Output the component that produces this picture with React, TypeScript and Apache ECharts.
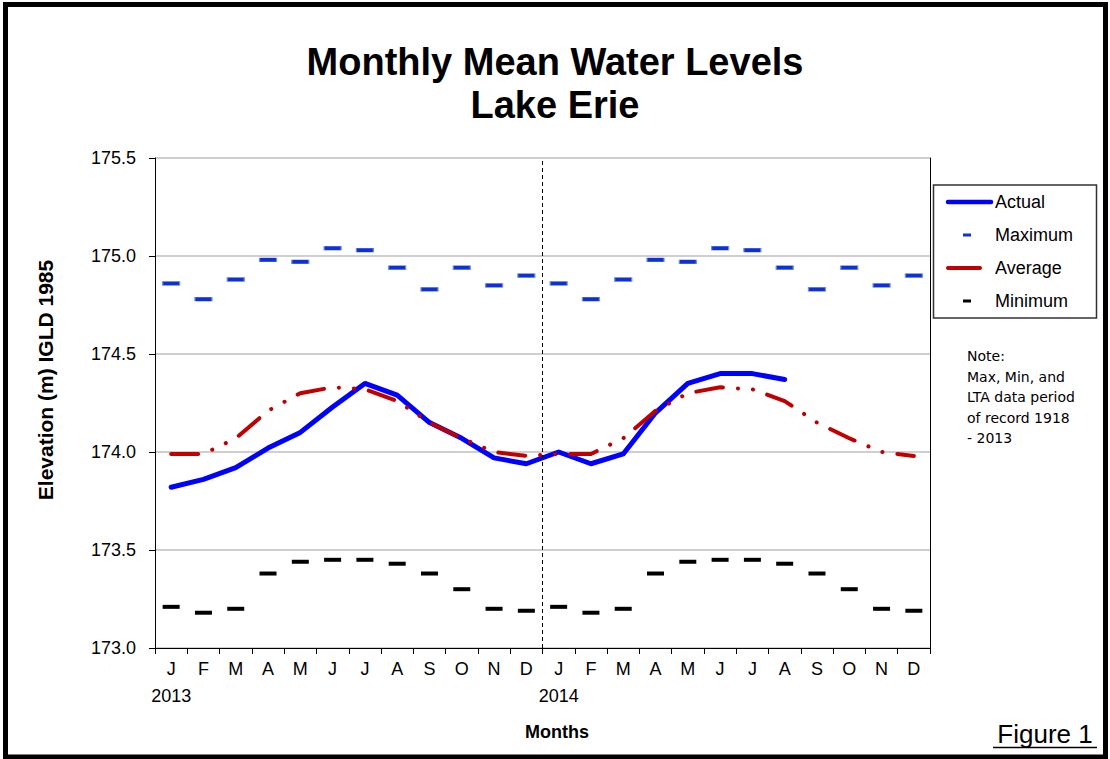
import React, { useEffect, useRef } from "react";
import * as echarts from "echarts";

const months = ["J", "F", "M", "A", "M", "J", "J", "A", "S", "O", "N", "D"];
const years = ["2013", "2014"];
const categories = years.flatMap((y) => months.map((m, i) => `${y}-${i + 1}`));

const actual = [
  173.82, 173.86, 173.92, 174.02, 174.1, 174.23, 174.35, 174.29, 174.15, 174.07, 173.97, 173.94,
  174.0, 173.94, 173.99, 174.2, 174.35, 174.4, 174.4, 174.37,
];
const maximum = [
  174.86, 174.78, 174.88, 174.98, 174.97, 175.04, 175.03, 174.94, 174.83, 174.94, 174.85, 174.9,
  174.86, 174.78, 174.88, 174.98, 174.97, 175.04, 175.03, 174.94, 174.83, 174.94, 174.85, 174.9,
];
const average = [
  173.99, 173.99, 174.07, 174.21, 174.3, 174.33, 174.32, 174.26, 174.15, 174.07, 174.0, 173.98,
  173.99, 173.99, 174.07, 174.21, 174.3, 174.33, 174.32, 174.26, 174.15, 174.07, 174.0, 173.98,
];
const minimum = [
  173.21, 173.18, 173.2, 173.38, 173.44, 173.45, 173.45, 173.43, 173.38, 173.3, 173.2, 173.19,
  173.21, 173.18, 173.2, 173.38, 173.44, 173.45, 173.45, 173.43, 173.38, 173.3, 173.2, 173.19,
];
const yearBreak = [12];
const noteLines = ["Note:", "Max, Min, and", "LTA data period", "of record 1918", "- 2013"];
const legendItems = ["Actual", "Maximum", "Average", "Minimum"];

const FONT = 'Arial, "Liberation Sans", sans-serif';

export default function App() {
  const ref = useRef<HTMLDivElement>(null);
  useEffect(() => {
    if (!ref.current) return;
    const chart = echarts.init(ref.current, null, { renderer: "svg" });
    const legendY = [202, 235, 268, 301];
    const option: any = {
      animation: false,
      backgroundColor: "#fff",
      title: {
        text: "Monthly Mean Water Levels\nLake Erie",
        left: "center",
        top: 35,
        textStyle: { fontFamily: FONT, fontSize: 38, fontWeight: "bold", color: "#000", lineHeight: 43 },
      },
      grid: { left: 155, right: 180, top: 158, bottom: 111, containLabel: false },
      xAxis: [
        {
          type: "category",
          data: categories,
          boundaryGap: true,
          axisLine: { show: true, lineStyle: { color: "#000", width: 1 } },
          axisTick: { show: true, length: 6, lineStyle: { color: "#000" } },
          axisLabel: {
            interval: 0,
            margin: 7,
            color: "#000",
            fontFamily: FONT,
            fontSize: 18,
            lineHeight: 27,
            formatter: (v: string, i: number) =>
              i % 12 === 0 ? `${months[i % 12]}\n${years[Math.floor(i / 12)]}` : months[i % 12],
          },
          splitLine: { show: false },
        },
        { type: "value", min: 0, max: 24, show: false },
      ],
      yAxis: [
        {
          type: "value",
          min: 173,
          max: 175.5,
          interval: 0.5,
          axisLine: { show: true, lineStyle: { color: "#000", width: 1 } },
          axisTick: { show: true, length: 6, lineStyle: { color: "#000" } },
          axisLabel: {
            margin: 19,
            color: "#000",
            fontFamily: FONT,
            fontSize: 18,
            formatter: (v: number) => v.toFixed(1),
          },
          splitLine: { show: true, lineStyle: { color: "#BFBFBF", width: 1.5 } },
        },
        {
          type: "value",
          min: 173,
          max: 175.5,
          interval: 0.5,
          position: "right",
          axisLine: { show: true, lineStyle: { color: "#000", width: 1 } },
          axisTick: { show: false },
          axisLabel: { show: false },
          splitLine: { show: false },
        },
      ],
      series: [
        {
          name: "Divider",
          type: "line",
          xAxisIndex: 1,
          yAxisIndex: 0,
          data: [],
          symbol: "none",
          silent: true,
          markLine: {
            silent: true,
            symbol: "none",
            label: { show: false },
            lineStyle: { color: "#000", width: 1, type: [4, 3] },
            data: yearBreak.map((x) => ({ xAxis: x })),
          },
        },
        {
          name: "Maximum",
          type: "scatter",
          data: maximum,
          symbol: "rect",
          symbolSize: [17, 4],
          itemStyle: { color: "#0F30D8", borderColor: "#6F8FE0", borderWidth: 0.6, opacity: 1 },
          z: 3,
        },
        {
          name: "Minimum",
          type: "scatter",
          data: minimum,
          symbol: "rect",
          symbolSize: [17, 4],
          itemStyle: { color: "#000", opacity: 1 },
          z: 3,
        },
        {
          name: "Actual",
          type: "line",
          data: actual,
          symbol: "none",
          lineStyle: { color: "#0000FF", width: 5, join: "round", cap: "round" },
          z: 4,
        },
        {
          name: "Average",
          type: "line",
          data: average,
          symbol: "none",
          lineStyle: { color: "#C00000", width: 4, type: [27, 15, 0.1, 15, 0.1, 15], cap: "round", join: "round" },
          z: 5,
        },
      ],
      graphic: [
        {
          type: "rect",
          shape: { x: 5.5, y: 4.5, width: 1100, height: 752.5 },
          style: { fill: "none", stroke: "#000", lineWidth: 5 },
          silent: true,
        },
        {
          type: "rect",
          shape: { x: 933.5, y: 185, width: 163, height: 133 },
          style: { fill: "#fff", stroke: "#333", lineWidth: 1.5 },
          z: 10,
        },
        { type: "line", shape: { x1: 948, y1: legendY[0], x2: 991, y2: legendY[0] }, style: { stroke: "#0000FF", lineWidth: 4.5, lineCap: "round" }, z: 11 },
        { type: "rect", shape: { x: 963, y: legendY[1] - 1.5, width: 8, height: 3 }, style: { fill: "#0F30D8" }, z: 11 },
        { type: "line", shape: { x1: 948, y1: legendY[2], x2: 980, y2: legendY[2] }, style: { stroke: "#C00000", lineWidth: 4, lineCap: "round" }, z: 11 },
        { type: "rect", shape: { x: 963, y: legendY[3] - 1.5, width: 8, height: 3 }, style: { fill: "#000" }, z: 11 },
        ...legendItems.map((t, i) => ({
          type: "text",
          x: 995,
          y: legendY[i],
          z: 11,
          style: { text: t, fontFamily: FONT, fontSize: 18, fill: "#000", verticalAlign: "middle" },
        })),
        ...noteLines.map((t, i) => ({
          type: "text",
          x: 967,
          y: 356 + i * 20.6,
          style: { text: t, fontFamily: '"DejaVu Sans", sans-serif', fontSize: 14, fill: "#000", verticalAlign: "middle" },
        })),
        {
          type: "text",
          x: 45,
          y: 380,
          rotation: Math.PI / 2,
          style: { text: "Elevation (m) IGLD 1985", fontFamily: FONT, fontSize: 21, fontWeight: "bold", fill: "#000", align: "center", verticalAlign: "middle" },
        },
        {
          type: "text",
          x: 557,
          y: 732,
          style: { text: "Months", fontFamily: FONT, fontSize: 18, fontWeight: "bold", fill: "#000", align: "center", verticalAlign: "middle" },
        },
        {
          type: "text",
          x: 1045,
          y: 734,
          style: { text: "Figure 1", fontFamily: FONT, fontSize: 26, fill: "#000", align: "center", verticalAlign: "middle" },
        },
        { type: "line", shape: { x1: 993, y1: 747.5, x2: 1097, y2: 747.5 }, style: { stroke: "#000", lineWidth: 1.5 } },
      ],
    };
    chart.setOption(option);
    return () => chart.dispose();
  }, []);
  return <div ref={ref} style={{ position: "fixed", left: 0, top: 0, width: 1110, height: 759 }} />;
}
